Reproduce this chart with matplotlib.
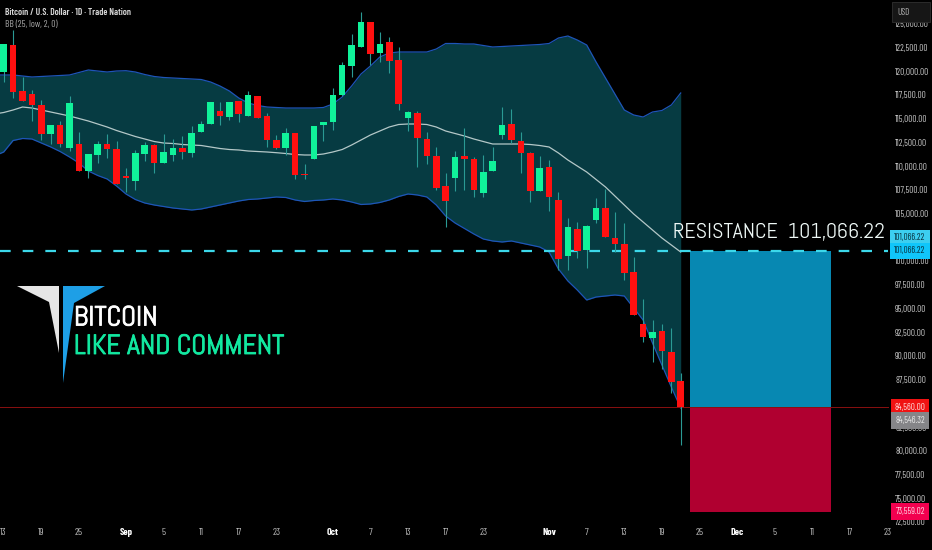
#!/usr/bin/env python
"""BTC daily candles with Bollinger bands and a resistance long setup, dark theme."""
import numpy as np
import matplotlib
matplotlib.use("Agg")
import matplotlib.pyplot as plt
import matplotlib.patheffects as pe
from matplotlib.patches import Polygon

GREEN = "#10F29A"
RED = "#FF1010"
WICK = "#2A9A94"
BAND = "#063B42"
BAND_EDGE = "#1E55B8"
BASIS = "#B4C8C8"
CYAN = "#3CD8EA"
SANS = ["Barlow Condensed", "Liberation Sans", "DejaVu Sans"]
LOGO = ["Abel", "Barlow Condensed", "Liberation Sans", "DejaVu Sans"]

opens = [119918, 122728, 117951, 117634, 116440, 113384, 114297, 111908, 112330, 109449,
         111206, 112295, 111838, 108922, 108466, 111276, 112189, 110363, 111135, 111908,
         111381, 113595, 114438, 115808, 115175, 116862, 115316, 117424, 115281, 112751,
         111873, 113454, 109168, 110714, 114297, 114648, 117459, 120515, 122553, 125152,
         121885, 123044, 121183, 115035, 115597, 112822, 111030, 107868, 108747, 111030,
         110784, 107166, 109519, 113278, 114403, 112681, 111416, 107377, 109906, 106426,
         100524, 103401, 101156, 104287, 105615, 102453, 101789, 98838, 93357, 91913,
         92620, 90406, 87381]
highs = [122904, 124344, 119356, 118021, 116967, 114332, 114789, 117389, 113595, 111276,
         112681, 113384, 112611, 109765, 111697, 112576, 112330, 113349, 112822, 113173,
         114227, 114789, 116756, 116756, 116791, 116862, 117951, 117424, 115562, 113278,
         113981, 113524, 110222, 114262, 114613, 118197, 121007, 123923, 126206, 125223,
         124098, 123642, 122518, 115807, 115843, 113595, 111979, 109238, 111627, 113981,
         110995, 111171, 112049, 116264, 115983, 113630, 111487, 111100, 110644, 107270,
         104530, 104140, 103791, 106669, 107555, 105194, 104034, 100388, 95961, 93779,
         93357, 92936, 88160]
lows = [118899, 117143, 116897, 114789, 112751, 112330, 111979, 111627, 109449, 108711,
        110292, 110819, 108149, 107306, 107482, 110573, 109309, 110292, 110573, 110714,
        110925, 113595, 114438, 114367, 114859, 114684, 115316, 115070, 111979, 111803,
        111171, 108606, 108606, 110714, 112611, 113805, 117389, 119356, 122553, 120656,
        121007, 119777, 115913, 113735, 109941, 110222, 107482, 103547, 107412, 107482,
        106779, 106709, 109519, 112822, 112470, 109238, 106252, 107377, 105304, 99048,
        99048, 100313, 99290, 104034, 102527, 100978, 97995, 94306, 91492, 89384,
        88614, 86053, 80604]
closes = [122904, 117845, 116897, 116405, 113384, 114332, 112330, 116616, 109449, 111276,
          112330, 111803, 108149, 108782, 111346, 112224, 110292, 111522, 111908, 111452,
          113524, 114403, 116756, 115281, 116791, 115527, 117494, 115070, 112751, 111943,
          113454, 109098, 109098, 114262, 114613, 117494, 120691, 122728, 125223, 121850,
          122834, 121077, 116545, 115737, 112962, 111030, 107728, 106358, 110960, 110714,
          107517, 109414, 110538, 114367, 112716, 111381, 107412, 109765, 106779, 100176,
          103613, 101051, 103686, 105552, 102527, 101821, 98701, 94306, 91987, 92514,
          90543, 87244, 84560]

# bollinger values start one bar left of the first visible candle
upper = [119602, 119602, 119602, 119496, 119391, 119444, 119496, 119549, 119602, 119865,
         120129, 120023, 119918, 120023, 120055, 119918, 119654, 119444, 119338, 119285,
         119233, 119180, 119127, 118864, 118442, 117915, 117177, 116650, 116387, 116229,
         116176, 116123, 116123, 116123, 116123, 116176, 116545, 117283, 118442, 119707,
         120550, 121499, 121920, 122026, 122026, 122026, 122026, 122342, 122922, 122922,
         122869, 122869, 122711, 122553, 122605, 122658, 122711, 122764, 122816, 122922,
         123501, 123712, 123291, 122764, 120972, 119285, 117599, 115913, 115386, 115175,
         115702, 115860, 116440, 117704]
basis = [115491, 115649, 115913, 116229, 116123, 115913, 115702, 115491, 115280, 115017,
         114753, 114437, 114121, 113752, 113436, 113120, 112856, 112592, 112434, 112381,
         112276, 112223, 112171, 112013, 111855, 111749, 111697, 111591, 111538, 111486,
         111412, 111327, 111222, 111169, 111169, 111275, 111486, 111749, 112223, 112750,
         113277, 113699, 114121, 114384, 114437, 114437, 114384, 114121, 113699, 113436,
         113172, 112856, 112592, 112329, 112329, 112329, 112329, 112276, 112171, 112013,
         111380, 110642, 110010, 109378, 108588, 107797, 106848, 105899, 104951, 104108,
         103264, 102421, 101684, 100945]
lower = [111064, 111486, 112698, 112909, 112856, 112434, 112013, 111538, 110959, 110326,
         109483, 109009, 108640, 107902, 107059, 106479, 106110, 105899, 105741, 105583,
         105478, 105373, 105478, 105689, 105899, 106110, 106321, 106479, 106532, 106637,
         106743, 106690, 106427, 106269, 106374, 106427, 106532, 106427, 106216, 105953,
         106005, 106163, 106427, 106796, 107059, 106954, 106743, 105899, 104740, 104002,
         103423, 102843, 102316, 102105, 102000, 102105, 101894, 101684, 101473, 100945,
         99153, 97889, 96940, 95886, 96202, 96308, 96413, 96308, 95043, 93778,
         91354, 89035, 86717, 84503]

resistance = 101066.22
entry = 84560.00
last_price = 84546.32
stop = 73559.02
setup_start, setup_end = 73, 88

price_ticks = list(range(72500, 125001, 2500))
hidden_prices = [102500]  # sits fully under the resistance tags
date_pos = [0, 4, 8, 13, 17, 21, 25, 29, 35, 39, 43, 47, 51, 58, 62, 66, 70, 74, 78, 82, 86, 90, 94]
date_labels = ["13", "19", "25", "Sep", "5", "11", "17", "23", "Oct", "7", "13", "17", "23",
               "Nov", "7", "13", "19", "25", "Dec", "5", "11", "17", "23"]

W, H = 932, 550
PER_BAR = 9.403
PER_PX = 105.4


def price_tag(ax, price, text, fc, tc, dy=0):
    ax.annotate(text, xy=(1, price), xycoords=("axes fraction", "data"),
                xytext=(-22 / 1.3889, dy / 1.3889), textcoords="offset points",
                ha="center", va="center", fontsize=6.6, color=tc, family=SANS, zorder=8,
                bbox=dict(boxstyle="square,pad=0.42", fc=fc, ec="none"))


def main():
    n = len(opens)
    idx = np.arange(n)
    bb_x = np.arange(-1, n)
    op, hi, lo, cl = map(np.asarray, (opens, highs, lows, closes))

    fig = plt.figure(figsize=(W / 100, H / 100), dpi=100, facecolor="black")
    ax = fig.add_axes([0, 0, 1, 1], facecolor="black")
    ax.set_xlim(-3.7 / PER_BAR, (W - 3.7) / PER_BAR)
    ax.set_ylim(122500 - (H - 47.5) * PER_PX, 122500 + 47.5 * PER_PX)
    for s in ax.spines.values():
        s.set_visible(False)

    # bollinger
    ax.fill_between(bb_x, lower, upper, color=BAND, lw=0, zorder=1)
    ax.plot(bb_x, upper, color=BAND_EDGE, lw=0.9, zorder=2)
    ax.plot(bb_x, lower, color=BAND_EDGE, lw=0.9, zorder=2)
    ax.plot(bb_x, basis, color=BASIS, lw=0.9, zorder=2)

    # long setup boxes and levels
    width = setup_end - setup_start
    ax.bar(setup_start, resistance - entry, width=width, bottom=entry, align="edge",
           color="#0788B2", lw=0, zorder=2)
    ax.bar(setup_start, entry - stop, width=width, bottom=stop, align="edge",
           color="#B00030", lw=0, zorder=2)
    line_end = (888 - 3.7) / PER_BAR
    ax.plot([ax.get_xlim()[0], line_end], [entry, entry], color="#8A1010", lw=0.7, zorder=2.2)
    ax.plot([ax.get_xlim()[0], line_end], [resistance, resistance], color=CYAN, lw=1.6,
            ls=(0, (4.8, 5.4)), zorder=2.6)

    # candles
    up = cl >= op
    ax.vlines(idx, lo, hi, color=WICK, lw=0.8, zorder=3)
    ax.bar(idx[up], (cl - op)[up], bottom=op[up], width=0.7, color=GREEN, lw=0, zorder=4)
    ax.bar(idx[~up], (op - cl)[~up], bottom=cl[~up], width=0.7, color=RED, lw=0, zorder=4)

    # price + date scales, drawn inside the figure like the trading screen
    ax.yaxis.tick_right()
    ax.set_yticks(price_ticks, ["" if p in hidden_prices else f"{p:,.2f}" for p in price_ticks])
    ax.set_xticks(date_pos, date_labels)
    ax.tick_params(axis="y", length=0, pad=-26.5, labelsize=6.6, labelcolor="#C8C8C8")
    ax.tick_params(axis="x", length=0, pad=-15.5, labelsize=7.2, labelcolor="#B8B8B8")
    for lab in ax.get_yticklabels() + ax.get_xticklabels():
        lab.set_family(SANS)
    for lab in ax.get_yticklabels():
        lab.set_ha("left")
    for lab in ax.get_xticklabels():
        if lab.get_text() in ("Sep", "Oct", "Nov", "Dec"):
            lab.set_color("white")
            lab.set_fontweight("bold")

    price_tag(ax, resistance, f"{resistance:,.2f}", "#3CCFF0", "#06303C", dy=13)
    price_tag(ax, resistance, f"{resistance:,.2f}", "#10C6FA", "#06303C")
    price_tag(ax, entry, f"{entry:,.2f}", "#F01212", "#FFE0E0")
    price_tag(ax, last_price, f"{last_price:,.2f}", "#858588", "#E8E8E8", dy=-13)
    price_tag(ax, stop, f"{stop:,.2f}", "#F2004F", "#FFD8E4")

    # header + usd box, pixel placed
    def fx(x):
        return x / W

    def fy(y):
        return 1 - y / H

    fig.text(fx(5), fy(12.5), "Bitcoin / U.S. Dollar · 1D · Trade Nation", color="#D8D8D8",
             fontsize=6.8, fontweight=600, family=SANS, va="center")
    fig.text(fx(5), fy(25), "BB (25, low, 2, 0)", color="#A8A8A8", fontsize=6.9, family=SANS,
             va="center")
    fig.add_artist(plt.Rectangle((fx(892), fy(22)), 38 / W, 20 / H, fc="#161616", ec="#2C2C2C",
                                 lw=0.7, zorder=7))
    fig.text(fx(897), fy(12.5), "USD", color="#B0B0B0", fontsize=6.6, family=SANS, va="center",
             zorder=8)

    # logo
    white_logo = [(17, 286), (59, 286), (59, 353), (49, 302)]
    blue_logo = [(63, 286), (105, 286), (74, 303), (63, 383)]
    for pts, col in ((white_logo, "#E6E6E6"), (blue_logo, "#1E9FE6")):
        fig.add_artist(Polygon([(fx(x), fy(y)) for x, y in pts], closed=True, fc=col, ec="none",
                               transform=fig.transFigure, zorder=6))
    bold_w = [pe.withStroke(linewidth=0.6, foreground="white")]
    bold_g = [pe.withStroke(linewidth=0.6, foreground="#12E8A0")]
    fig.text(fx(74), fy(318.5), "BITCOIN", color="white", fontsize=20, family=LOGO, va="center",
             zorder=6, path_effects=bold_w)
    fig.text(fx(74), fy(347), "LIKE AND COMMENT", color="#12E8A0", fontsize=20, family=LOGO,
             va="center", zorder=6, path_effects=bold_g)
    fig.text(fx(673), fy(232.5), "RESISTANCE  101,066.22", color="#EEF8F6", fontsize=15.8,
             family=LOGO, va="center", zorder=6)

    fig.savefig("out.png", dpi=100, facecolor="black")
    plt.close(fig)


if __name__ == "__main__":
    main()
